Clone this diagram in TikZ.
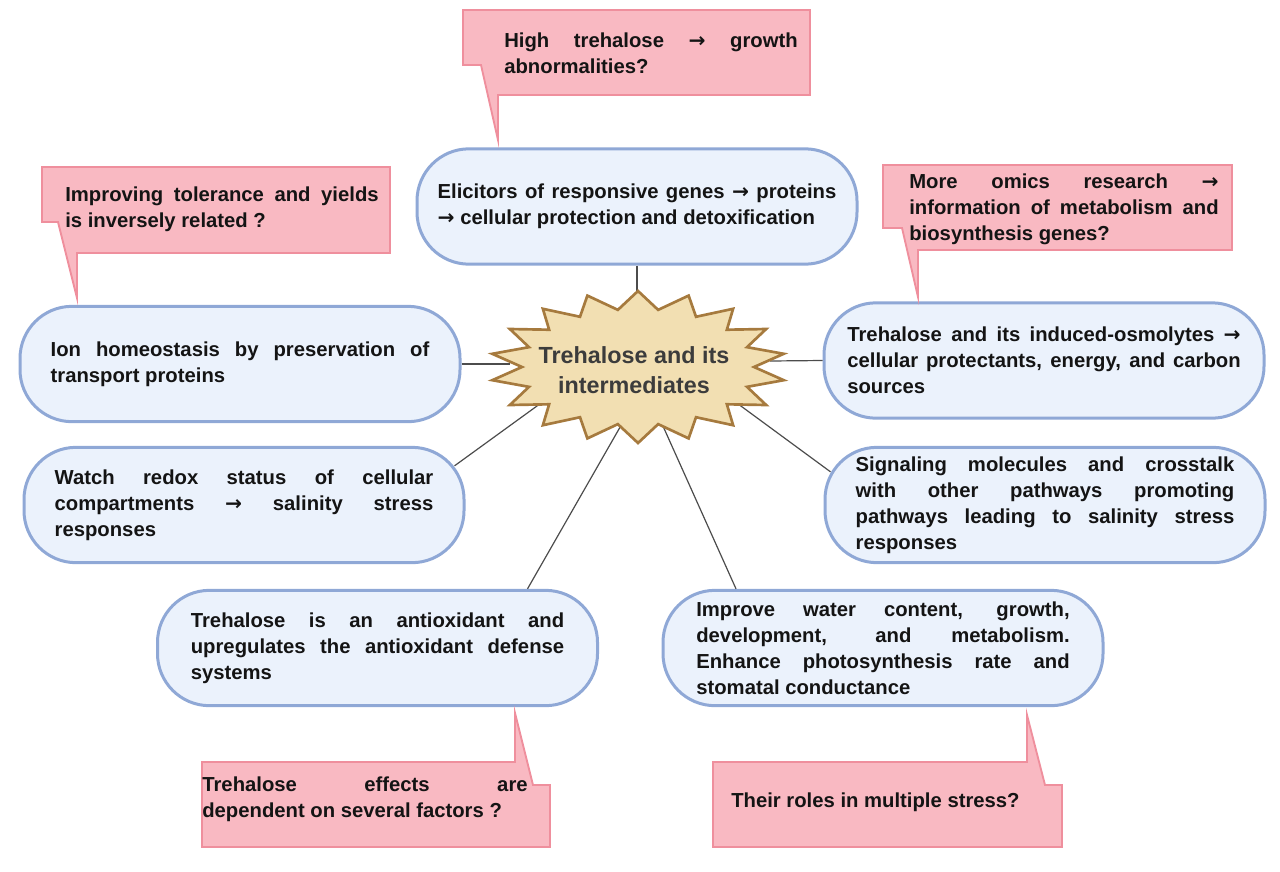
\documentclass[tikz,border=0pt]{standalone}
\usepackage{fontspec}
\setmainfont{Liberation Sans}
\newfontfamily\arrowfont{DejaVu Sans}
\usepackage{xcolor}

\definecolor{boxfill}{HTML}{EBF2FC}
\definecolor{boxline}{HTML}{8FA8D6}
\definecolor{qfill}{HTML}{F9B9C2}
\definecolor{qline}{HTML}{EF8F9D}
\definecolor{starfill}{HTML}{F2DFB2}
\definecolor{starline}{HTML}{A67A3E}
\definecolor{hubgray}{HTML}{3C3C3C}
\definecolor{inkdark}{HTML}{141414}

\newcommand{\mapfont}{\fontsize{15.2}{19.5}\selectfont\bfseries\hyphenpenalty=10000\relax}
\newcommand{\ra}{{\arrowfont\bfseries →}}

\begin{document}
\begin{tikzpicture}[x=0.75pt, y=-0.75pt,
	box/.style={draw=boxline, line width=2.25pt, fill=boxfill, rounded corners=39pt,
		minimum width=330pt, minimum height=86.5pt, inner sep=0pt,
		text width=#1, align=justify, text=inkdark, font=\mapfont},
	qbox/.style={draw=qline, line width=1.4pt, fill=qfill, line join=miter},
	qtext/.style={inner sep=0pt, text width=#1, align=justify, text=inkdark, font=\mapfont},
	hubstar/.style={draw=starline, line width=2pt, fill=starfill, line join=miter},
	link/.style={draw=black!70, line width=0.9pt}]
	\useasboundingbox (0,0) rectangle (1280,871);
	
	% Boxes
	\node[box=299pt] (elic) at (637,206.5) {Elicitors of responsive genes \ra{} proteins\linebreak \ra{} cellular protection and detoxification};
	\node[box=284pt] (ion) at (240,364) {Ion homeostasis by preservation of\linebreak transport proteins};
	\node[box=284pt] (redox) at (244,505) {Watch redox status of cellular\linebreak compartments \ra{} salinity stress\linebreak responses};
	\node[box=295pt] (osmo) at (1044,360.5) {Trehalose and its induced-osmolytes \ra\linebreak cellular protectants, energy, and carbon\linebreak sources};
	\node[box=284pt] (signal) at (1045,505) {Signaling molecules and crosstalk\linebreak with other pathways promoting\linebreak pathways leading to salinity stress\linebreak responses};
	\node[box=280pt] (antiox) at (377.5,648) {Trehalose is an antioxidant and\linebreak upregulates the antioxidant defense\linebreak systems};
	\node[box=280pt] (growth) at (883,648) {Improve water content, growth,\linebreak development, and metabolism.\linebreak Enhance photosynthesis rate and\linebreak stomatal conductance};
	
	% Links to the centre
	\coordinate (s-n) at (637,300);
	\coordinate (s-w) at (510,364);
	\coordinate (s-e) at (770,361);
	\coordinate (s-wsw) at (548,398);
	\coordinate (s-ese) at (730,398);
	\coordinate (s-ssw) at (627,415);
	\coordinate (s-sse) at (658,415);
	\draw[link] (elic.south) -- (s-n);
	\draw[link] (ion.east) -- (s-w);
	\draw[link] (osmo.west) -- (s-e);
	\draw[link] ([shift={(-11,20)}]redox.north east) -- (s-wsw);
	\draw[link] ([shift={(7,26)}]signal.north west) -- (s-ese);
	\draw[link] ([shift={(150,0)}]antiox.north) -- (s-ssw);
	\draw[link] ([shift={(-147,0)}]growth.north) -- (s-sse);
	
	% Centre
	\begin{scope}[shift={(638,367)}]
		\draw[hubstar] (90:148 and 76) \foreach \k in {0,...,17} { -- ({100+20*\k}:116 and 58) -- ({110+20*\k}:148 and 76) } -- cycle;
	\end{scope}
	\node[align=center, text=hubgray, font=\fontsize{17.5}{22}\selectfont\bfseries] (tre) at (634,370) {Trehalose and its\\intermediates};
	
	% Questions
	\draw[qbox] (463,10) -- (810,10) -- (810,95) -- (498,95) -- (498,140) -- (481,65) -- (463,65) -- cycle;
	\node[qtext=220pt] (q-top) at (651,53) {High trehalose \ra{} growth\linebreak abnormalities?};
	
	\draw[qbox] (42,167) -- (390,167) -- (390,253) -- (77,253) -- (77,298) -- (58,222) -- (42,222) -- cycle;
	\node[qtext=235pt] (q-yield) at (222,209) {Improving tolerance and yields\linebreak is inversely related~?};
	
	\draw[qbox] (883,165) -- (1232,165) -- (1232,250) -- (918,250) -- (918,297) -- (902,228) -- (883,228) -- cycle;
	\node[qtext=232pt] (q-omics) at (1064,209) {More omics research \ra\linebreak information of metabolism and\linebreak biosynthesis genes?};
	
	\draw[qbox] (202,762) -- (515,762) -- (515,713) -- (533,785) -- (550,785) -- (550,847) -- (202,847) -- cycle;
	\node[qtext=244pt] (q-factor) at (365,799) {Trehalose effects are\linebreak dependent on several factors~?};
	
	\draw[qbox] (713,762) -- (1027,762) -- (1027,715) -- (1045,785) -- (1062,785) -- (1062,847) -- (713,847) -- cycle;
	\node[inner sep=0pt, text=inkdark, font=\mapfont, anchor=west] (q-multi) at (731,802) {Their roles in multiple stress?};
\end{tikzpicture}
\end{document}
